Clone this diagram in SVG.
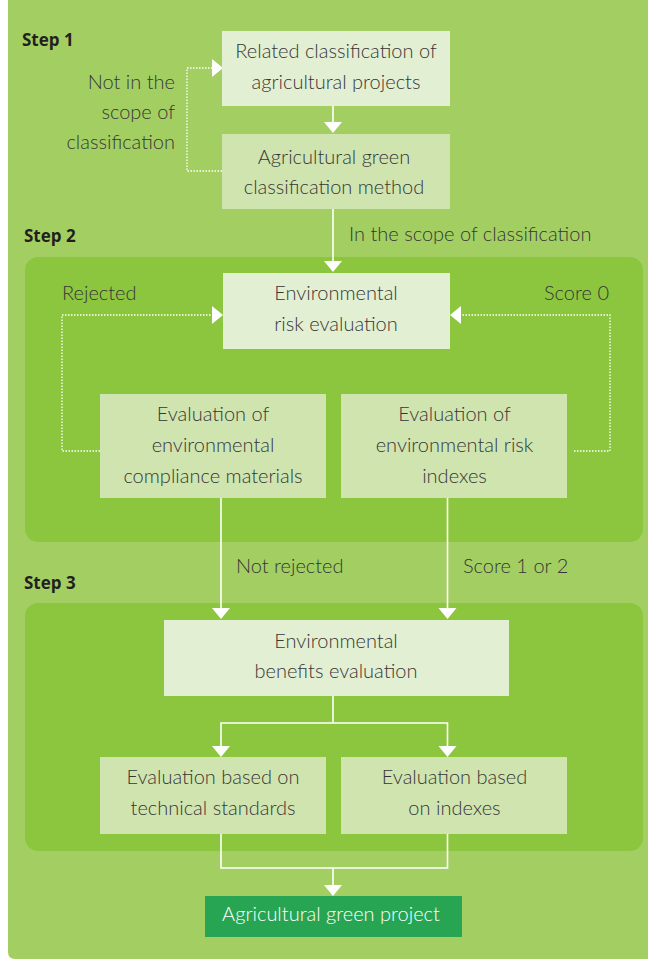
<svg xmlns="http://www.w3.org/2000/svg" width="648" height="959" viewBox="0 0 648 959">
<style>
  .t { font-family: "Lato", "Open Sans", "Liberation Sans", sans-serif; font-weight: 300; font-size: 20px; fill: #363636; text-anchor: middle; }
  .lbl { font-family: "Lato", "Open Sans", "Liberation Sans", sans-serif; font-weight: 300; font-size: 20px; fill: #363636; }
  .step { font-family: "Open Sans", "Liberation Sans", sans-serif; font-weight: 700; font-size: 17px; fill: #231f20; }
  .b1 { fill: #e3efd3; }
  .b2 { fill: #d0e4b0; }
  .ln { stroke: #ffffff; stroke-width: 1.6; fill: none; }
  .dt { stroke: #ffffff; stroke-width: 1.3; stroke-dasharray: 1.5 1.5; fill: none; }
  .ah { fill: #ffffff; }
</style>
<path d="M8 0 H648 V959 H15 Q8 959 8 952 Z" fill="#a3cf62"/>
<rect x="25" y="257" width="618" height="285" rx="13" fill="#8cc63f"/>
<rect x="25" y="603" width="618" height="248" rx="13" fill="#8cc63f"/>

<text class="step" x="22" y="46">Step 1</text>
<text class="step" x="24" y="242">Step 2</text>
<text class="step" x="24" y="589">Step 3</text>

<g id="connectors">
  <line class="ln" x1="333" y1="106" x2="333" y2="124"/>
  <polygon class="ah" points="324,122 342,122 333,133"/>
  <path class="dt" d="M222 171 H187 V68 H213"/>
  <polygon class="ah" points="212,59 223,68 212,77"/>
  <line class="ln" x1="333" y1="209" x2="333" y2="263"/>
  <polygon class="ah" points="324,261 342,261 333,272"/>
  <path class="dt" d="M100 451 H62 V315 H213"/>
  <polygon class="ah" points="212,306 223,315 212,324"/>
  <path class="dt" d="M574 451 H610 V315 H460"/>
  <polygon class="ah" points="461,306 450,315 461,324"/>
  <line class="ln" x1="221" y1="498" x2="221" y2="610"/>
  <polygon class="ah" points="212,608 230,608 221,619"/>
  <line class="ln" x1="447.5" y1="498" x2="447.5" y2="610"/>
  <polygon class="ah" points="438.5,608 456.5,608 447.5,619"/>
  <path class="ln" d="M333 696 V723 M221 749 V723 H447.5 V749"/>
  <polygon class="ah" points="212,746 230,746 221,757"/>
  <polygon class="ah" points="438.5,746 456.5,746 447.5,757"/>
  <path class="ln" d="M221 834 V868 H447.5 V834 M333 868 V888"/>
  <polygon class="ah" points="324,885 342,885 333,896"/>
</g>

<g id="label-notscope">
  <text class="lbl" x="175" y="89" text-anchor="end">Not in the</text>
  <text class="lbl" x="175" y="119" text-anchor="end">scope of</text>
  <text class="lbl" x="175" y="149" text-anchor="end">classification</text>
</g>
<text class="lbl" x="349" y="241">In the scope of classification</text>
<text class="lbl" x="62" y="300">Rejected</text>
<text class="lbl" x="609" y="300" text-anchor="end">Score 0</text>
<text class="lbl" x="236" y="573">Not rejected</text>
<text class="lbl" x="463" y="573">Score 1 or 2</text>

<g id="n1">
  <rect class="b1" x="222" y="31" width="228" height="75"/>
  <text class="t" x="336" y="58">Related classification of</text>
  <text class="t" x="336" y="89">agricultural projects</text>
</g>
<g id="n2">
  <rect class="b2" x="222" y="134" width="228" height="75"/>
  <text class="t" x="334" y="164">Agricultural green</text>
  <text class="t" x="334" y="194">classification method</text>
</g>
<g id="n3">
  <rect class="b1" x="223" y="273" width="227" height="76"/>
  <text class="t" x="336" y="300">Environmental</text>
  <text class="t" x="336" y="331">risk evaluation</text>
</g>
<g id="n4">
  <rect class="b2" x="100" y="394" width="226" height="104"/>
  <text class="t" x="213" y="421">Evaluation of</text>
  <text class="t" x="213" y="452">environmental</text>
  <text class="t" x="213" y="483">compliance materials</text>
</g>
<g id="n5">
  <rect class="b2" x="341" y="394" width="226" height="104"/>
  <text class="t" x="454.5" y="421">Evaluation of</text>
  <text class="t" x="454.5" y="452">environmental risk</text>
  <text class="t" x="454.5" y="483">indexes</text>
</g>
<g id="n6">
  <rect class="b1" x="164" y="620" width="345" height="76"/>
  <text class="t" x="336" y="648">Environmental</text>
  <text class="t" x="336" y="678">benefits evaluation</text>
</g>
<g id="n7">
  <rect class="b2" x="100" y="757" width="226" height="77"/>
  <text class="t" x="213" y="784">Evaluation based on</text>
  <text class="t" x="213" y="815">technical standards</text>
</g>
<g id="n8">
  <rect class="b2" x="341" y="757" width="226" height="77"/>
  <text class="t" x="454.5" y="784">Evaluation based</text>
  <text class="t" x="454.5" y="815">on indexes</text>
</g>
<g id="n9">
  <rect x="205" y="896" width="257" height="41" fill="#27a553"/>
  <text class="t" x="331" y="921" style="fill:#ffffff">Agricultural green project</text>
</g>
</svg>
